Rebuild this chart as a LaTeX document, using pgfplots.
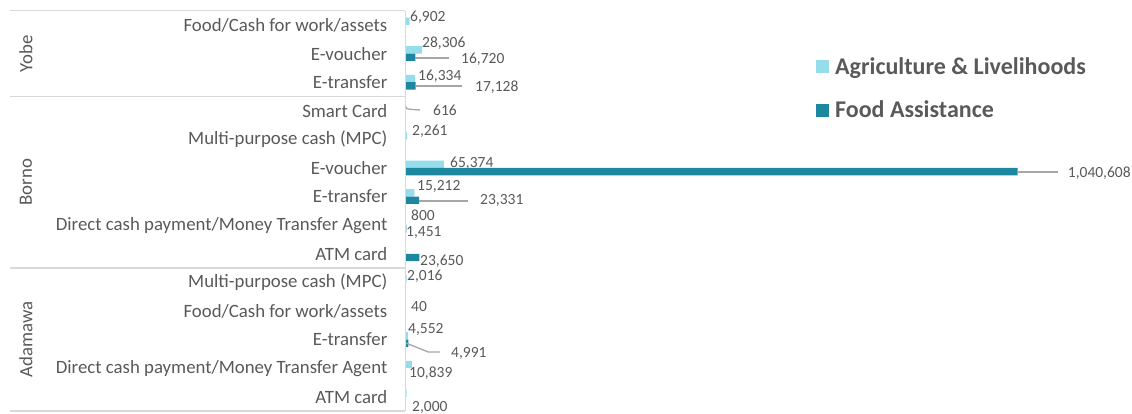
\documentclass[border=0pt]{standalone}
\usepackage{pgfplots}
\pgfplotsset{compat=1.18}
\usepackage{pgfplotstable}
\usepackage{fontspec}
\setmainfont{Carlito}
\definecolor{agri}{RGB}{150,221,236}
\definecolor{food}{RGB}{30,135,160}
\definecolor{txt}{RGB}{89,89,89}
\definecolor{sep}{RGB}{217,217,217}
\definecolor{lead}{RGB}{166,166,166}

% v = row position (13 = top row)
\pgfplotstableread{
v value
13 6902
12 28306
11 16334
10 616
9 2261
8 65374
7 15212
6 800
4 2016
3 40
2 4552
1 10839
0 2000
}\agri
\pgfplotstableread{
v value
12 16720
11 17128
8 1040608
7 23331
6 1451
5 23650
2 4991
}\food
\pgfplotstableread{
x v lab
7652 13.28 6,902
28056 12.37 28,306
94369 11.81 16,720
21254 11.22 16,334
118174 10.83 17,128
46759 10.03 616
11052 9.29 2,261
75665 8.17 65,374
1126000 7.83 1,040,608
19554 7.34 15,212
126675 6.85 23,331
9352 6.36 800
850 5.73 1,451
24655 4.75 23,650
2551 4.22 2,016
9352 3.17 40
4251 2.34 4,552
77366 1.53 4,991
5951 0.83 10,839
11052 -0.36 2,000
}\labels

\begin{document}
\begin{tikzpicture}
\begin{axis}[
  scale only axis, width=726.5pt, height=414pt,
  xmin=0, xmax=1235280,
  ymin=-0.601, ymax=13.874,
  clip=false,
  axis line style={draw=none},
  tick style={draw=none},
  xtick=\empty,
  ytick={0,...,13},
  yticklabels={ATM card,Direct cash payment/Money Transfer Agent,E-transfer,Food/Cash for work/assets,Multi-purpose cash (MPC)\ ,ATM card,Direct cash payment/Money Transfer Agent,E-transfer,E-voucher,Multi-purpose cash (MPC),Smart Card,E-transfer,E-voucher,Food/Cash for work/assets},
  yticklabel style={anchor=east, inner sep=0pt, font=\fontsize{18.8}{21}\selectfont, text=txt},
  yticklabel shift=18pt,
  legend style={at={(rel axis cs:0.565,0.861)}, anchor=north west, draw=none, fill=none,
    inner sep=0pt, row sep=25pt, font=\fontsize{24}{26}\selectfont\bfseries, text=txt,
    nodes={inner xsep=6pt, inner ysep=0pt}},
  legend cell align=left,
  legend image code/.code={\path[#1,draw=none] (0pt,-6.5pt) rectangle (13pt,6.5pt);},
]
\addplot[xbar, bar width=7.4pt, bar shift=3.7pt, fill=agri, draw=none] table[x=value, y=v] {\agri};
\addlegendentry{Agriculture \& Livelihoods}
\addplot[xbar, bar width=7.4pt, bar shift=-3.7pt, fill=food, draw=none] table[x=value, y=v] {\food};
\addlegendentry{Food Assistance}

% leader lines
\addplot[lead, line width=1.3pt, forget plot] coordinates {(16720,11.85) (73965,11.85)};
\addplot[lead, line width=1.3pt, forget plot] coordinates {(17128,10.87) (96069,10.87)};
\addplot[lead, line width=1.3pt, forget plot, smooth] coordinates {(0,10.20) (3000,10.07) (24655,10.03)};
\addplot[lead, line width=1.3pt, forget plot] coordinates {(1040608,7.86) (1109462,7.86)};
\addplot[lead, line width=1.3pt, forget plot] coordinates {(23331,6.85) (106271,6.85)};
\addplot[lead, line width=1.3pt, forget plot] coordinates {(850,1.88) (38258,1.57) (58662,1.57)};

% data labels
\addplot[only marks, mark=none, forget plot, point meta=explicit symbolic,
  nodes near coords, nodes near coords style={anchor=west, inner sep=0pt, text=txt, font=\fontsize{15.5}{17}\selectfont}]
  table[x=x, y=v, meta=lab] {\labels};

% frame lines
\draw[sep, line width=1.3pt] (axis cs:0,13.5) -- (axis cs:0,-0.5);
\draw[sep, line width=1.3pt] ([xshift=-395.5pt]axis cs:0,13.5) -- (axis cs:0,13.5);
\draw[sep, line width=1.3pt] ([xshift=-395.5pt]axis cs:0,10.5) -- (axis cs:0,10.5);
\draw[sep, line width=1.3pt] ([xshift=-395.5pt]axis cs:0,4.5) -- (axis cs:0,4.5);
\draw[sep, line width=1.3pt] ([xshift=-395.5pt]axis cs:0,-0.5) -- (axis cs:0,-0.5);

% group labels
\node[rotate=90, text=txt, font=\fontsize{18.8}{21}\selectfont, inner sep=0pt] at ([xshift=-379.5pt]axis cs:0,12) {Yobe};
\node[rotate=90, text=txt, font=\fontsize{18.8}{21}\selectfont, inner sep=0pt] at ([xshift=-379.5pt]axis cs:0,7.5) {Borno};
\node[rotate=90, text=txt, font=\fontsize{18.8}{21}\selectfont, inner sep=0pt] at ([xshift=-379.5pt]axis cs:0,2) {Adamawa};

\coordinate (bl) at (rel axis cs:0,0);
\coordinate (tr) at (rel axis cs:1,1);
\end{axis}
\pgfresetboundingbox
\path ([xshift=-405.5pt]bl) rectangle (tr);
\end{tikzpicture}
\end{document}
